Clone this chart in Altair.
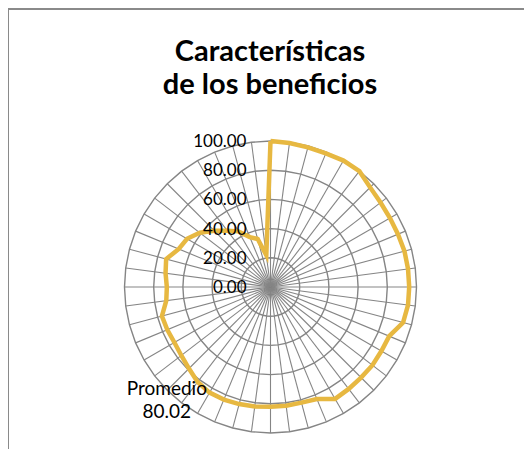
import altair as alt
import pandas as pd

# ---- data ----
values = [100, 99.5, 99, 99, 100, 100,
          96.5, 95, 94.5, 94.5, 95, 95,
          95, 95, 94, 88, 87.7, 88,
          87.7, 88, 88.5, 83, 82, 82,
          82, 82.5, 83, 83.5, 83.5, 82,
          79, 77, 76, 76.5, 77, 72,
          71, 72.5, 74, 68, 66, 61,
          54.5, 48.5, 44, 37, 34, 22]
n_cat = len(values)
categories = list(range(n_cat))
ring_levels = [20, 40, 60, 80, 100]
tick_levels = [0, 20, 40, 60, 80, 100]
tick_labels = ["0.00", "20.00", "40.00", "60.00", "80.00", "100.00"]
title_lines = ["Características", "de los beneficios"]
avg_name = "Promedio"
avg_text = "80.02"

# ---- tables built from the lists ----
series = pd.DataFrame({"idx": categories + [n_cat], "value": values + [values[0]]})
rings = pd.DataFrame([{"level": lv, "idx": i} for lv in ring_levels for i in range(n_cat + 1)])
spokes = pd.DataFrame({"idx": categories, "level": [100] * n_cat})
ticks = pd.DataFrame({"level": tick_levels, "label": tick_labels})
avg = pd.DataFrame({"label": [avg_name + "\n" + avg_text], "px": [-71], "py": [-70]})
title1 = pd.DataFrame({"t": [title_lines[0]]})
title2 = pd.DataFrame({"t": [title_lines[1]]})

N = str(n_cat)
GRID = "#858585"
GOLD = "#E7B841"
FONT = "Lato"

xs = alt.Scale(domain=[-100, 100], range=[116.5, 408.5])
ys = alt.Scale(domain=[-100, 100], range=[425, 133])

def polar(ch, rfield):
    return ch.transform_calculate(
        th="datum.idx * 2 * PI / " + N,
    ).transform_calculate(
        px="datum." + rfield + " * sin(datum.th)",
        py="datum." + rfield + " * cos(datum.th)",
    )

ring_layer = polar(alt.Chart(rings), "level").mark_line(
    color=GRID, strokeWidth=1.4
).encode(
    x=alt.X("px:Q", scale=xs, axis=None),
    y=alt.Y("py:Q", scale=ys, axis=None),
    detail="level:N",
    order="idx:Q",
)

spoke_layer = polar(alt.Chart(spokes), "level").transform_calculate(
    zero="0"
).mark_rule(color=GRID, strokeWidth=1.1).encode(
    x=alt.X("zero:Q", scale=xs, axis=None),
    y=alt.Y("zero:Q", scale=ys, axis=None),
    x2="px:Q",
    y2="py:Q",
)

line_layer = polar(alt.Chart(series), "value").mark_line(
    color=GOLD, strokeWidth=4.5, strokeJoin="miter"
).encode(
    x=alt.X("px:Q", scale=xs, axis=None),
    y=alt.Y("py:Q", scale=ys, axis=None),
    order="idx:Q",
)

tick_layer = alt.Chart(ticks).transform_calculate(zero="0").mark_text(
    align="right", baseline="middle", dx=-24, dy=1, fontSize=17, font=FONT, color="#000000"
).encode(
    x=alt.X("zero:Q", scale=xs, axis=None),
    y=alt.Y("level:Q", scale=ys, axis=None),
    text="label:N",
)

avg_layer = alt.Chart(avg).mark_text(
    align="center", baseline="middle", fontSize=19, font=FONT, color="#000000",
    lineBreak="\n", lineHeight=23,
).encode(
    x=alt.X("px:Q", scale=xs, axis=None),
    y=alt.Y("py:Q", scale=ys, axis=None),
    text="label:N",
)

title_style = dict(align="center", baseline="middle", fontSize=29, font=FONT,
                   fontWeight="bold", color="#000000")
t1_layer = alt.Chart(title1).mark_text(**title_style).encode(
    x=alt.value(262), y=alt.value(44), text="t:N"
)
t2_layer = alt.Chart(title2).mark_text(**title_style).encode(
    x=alt.value(262), y=alt.value(77), text="t:N"
)

frame_top = alt.Chart(ticks).mark_rule(color="#8a8a8a", strokeWidth=2).encode(
    x=alt.value(0), x2=alt.value(600), y=alt.value(1)
)
frame_left = alt.Chart(ticks).mark_rule(color="#8a8a8a", strokeWidth=2).encode(
    x=alt.value(0), y=alt.value(0), y2=alt.value(600)
)

chart = alt.layer(
    ring_layer, spoke_layer, line_layer, tick_layer, avg_layer,
    t1_layer, t2_layer, frame_top, frame_left
).properties(
    width=516,
    height=441,
    autosize=alt.AutoSizeParams(type="none"),
    padding=0,
).configure_view(stroke=None)

chart.save("out.html", embed_options={"renderer": "svg", "actions": False})
